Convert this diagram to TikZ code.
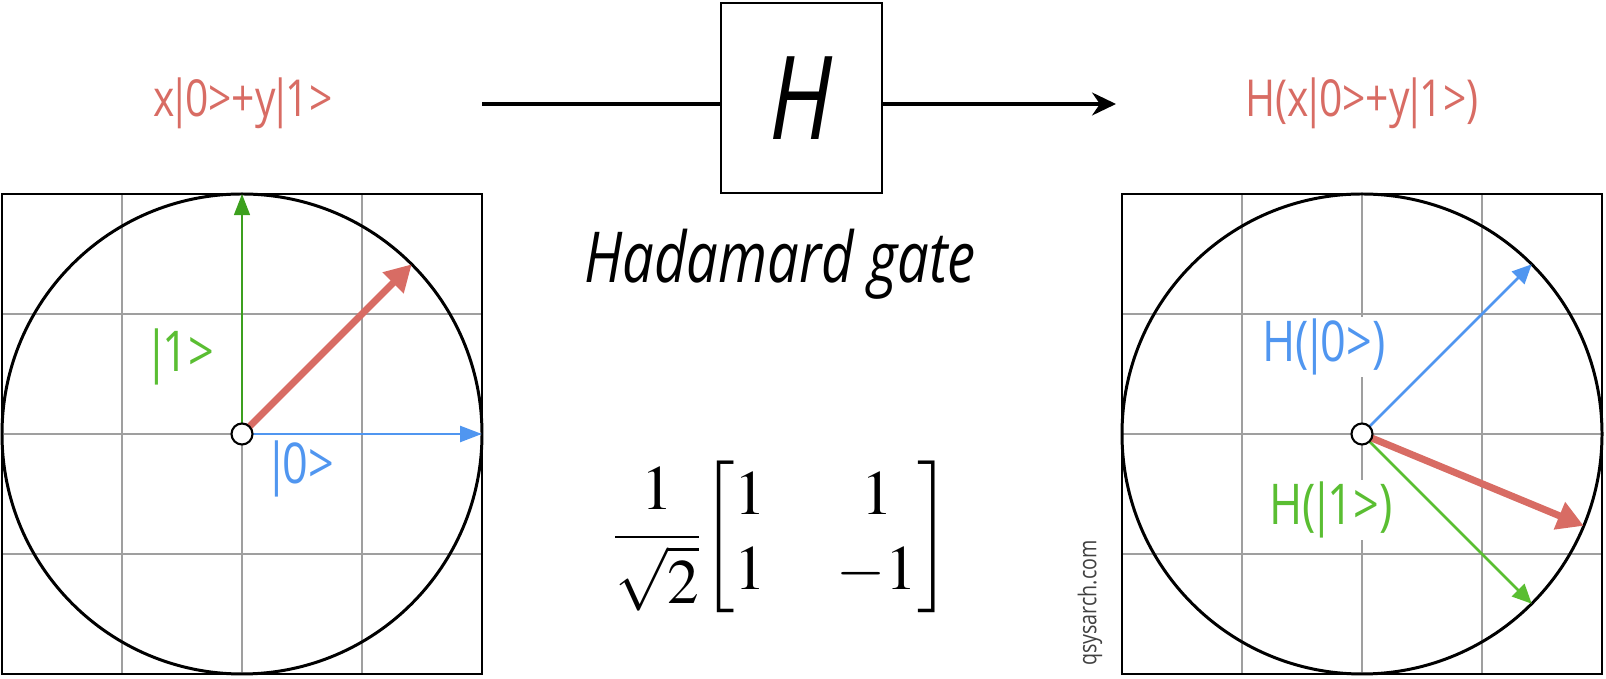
\documentclass[tikz,border=0pt]{standalone}
\usepackage{mathptmx}
\usepackage{amsmath}
\usepackage{fontspec}
\usetikzlibrary{arrows.meta,calc}
\newfontfamily\hand[FakeStretch=0.8]{Open Sans}
\newcommand\vb{\kern-.12em|\kern-.12em}
\definecolor{qred}{RGB}{216,108,100}
\definecolor{qblue}{RGB}{80,150,240}
\definecolor{qgreen}{RGB}{90,190,50}
\definecolor{qdkgreen}{RGB}{60,160,30}

\begin{document}
\begin{tikzpicture}[x=0.02cm,y=0.02cm,
    gridline/.style={gray!75,line width=0.6pt},
    panel/.style={draw=black,line width=1.2pt},
    unit/.style={black,line width=1.7pt},
    origin/.style={circle,draw=black,fill=white,line width=1.2pt,minimum size=0.42cm,inner sep=0pt},
    lbl/.style={font=\hand\fontsize{32}{36}\selectfont,fill=white,inner sep=1pt},
    toplbl/.style={font=\hand\fontsize{29}{34}\selectfont,text=qred},
    wire/.style={black,line width=1.9pt},
    gatebox/.style={draw=black,line width=1.6pt,minimum width=3.22cm,minimum height=3.8cm,inner sep=0pt}
]
            \useasboundingbox (0,0) rectangle (1606,679);
            \def\rad{240}
            \coordinate (c1) at (242,245);
            \coordinate (c2) at (1362,245);
            % grids and unit circles
            \foreach \cx in {242,1362} {
                \foreach \d in {-120,0,120} {
                    \draw[gridline] (\cx+\d,5) -- (\cx+\d,485);
                    \draw[gridline] (\cx-\rad,245+\d) -- (\cx+\rad,245+\d);
                }
                \draw[panel] (\cx-\rad,5) rectangle (\cx+\rad,485);
                \draw[unit] (\cx,245) circle (\rad);
            }
            % labels
            \node[lbl,text=qgreen] (ket1) at (183,322) {\vb1>};
            \node[lbl,text=qblue] (ket0) at (303,210) {\vb0>};
            \node[lbl,text=qblue] (h0) at (1324,332) {H(\vb0>)};
            \node[lbl,text=qgreen] (h1) at (1331,169) {H(\vb1>)};
            \node[toplbl] (psi) at (243,576) {x\vb0>+y\vb1>};
            \node[toplbl] (hpsi) at (1362,576) {H(x\vb0>+y\vb1>)};
            % state vectors
            \coordinate (t0) at ($(c1)+(0:\rad)$);
            \coordinate (t1) at ($(c1)+(90:\rad)$);
            \coordinate (s1) at ($(c1)+(45:\rad)$);
            \coordinate (u0) at ($(c2)+(45:\rad)$);
            \coordinate (u1) at ($(c2)+(-45:\rad)$);
            \coordinate (s2) at ($(c2)+(-22.5:\rad)$);
            \draw[qdkgreen,line width=1.2pt,-{Triangle[length=12pt,width=9pt]}] (c1) -- (t1);
            \draw[qblue,line width=1.7pt,-{Triangle[length=12.5pt,width=9pt]}] (c1) -- (t0);
            \draw[qred,line width=4pt,-{Triangle[length=15pt,width=16pt]}] (c1) -- (s1);
            \draw[qblue,line width=1.5pt,-{Triangle[length=11pt,width=10pt]}] (c2) -- (u0);
            \draw[qgreen,line width=1.5pt,-{Triangle[length=11pt,width=10pt]}] (c2) -- (u1);
            \draw[qred,line width=4pt,-{Triangle[length=15pt,width=16pt]}] (c2) -- (s2);
            \node[origin] (o1) at (c1) {};
            \node[origin] (o2) at (c2) {};
            % gate
            \node[gatebox,font=\hand\itshape\fontsize{66}{70}\selectfont] (gate) at (801.5,581) {H};
            \coordinate (in) at (482,575);
            \coordinate (out) at (1116,575);
            \draw[wire] (in) -- (in -| gate.west);
            \draw[wire,-{Stealth[length=13.6pt,width=13pt]}] (out -| gate.east) -- (out);
            \node[font=\hand\itshape\fontsize{40}{44}\selectfont,anchor=base] (name) at (780,396) {Hadamard gate};
            \node[font=\fontsize{36}{43}\selectfont] (mat) at (782,142)
                {$\setlength{\arraycolsep}{20pt}\dfrac{1}{\sqrt{2}}\!\begin{bmatrix}1 & 1\\ 1 & -1\end{bmatrix}$};
            \node[rotate=90,font=\hand\fontsize{14}{16}\selectfont,text=black!75] (wm) at (1090,76) {qsysarch.com};
\end{tikzpicture}
\end{document}
